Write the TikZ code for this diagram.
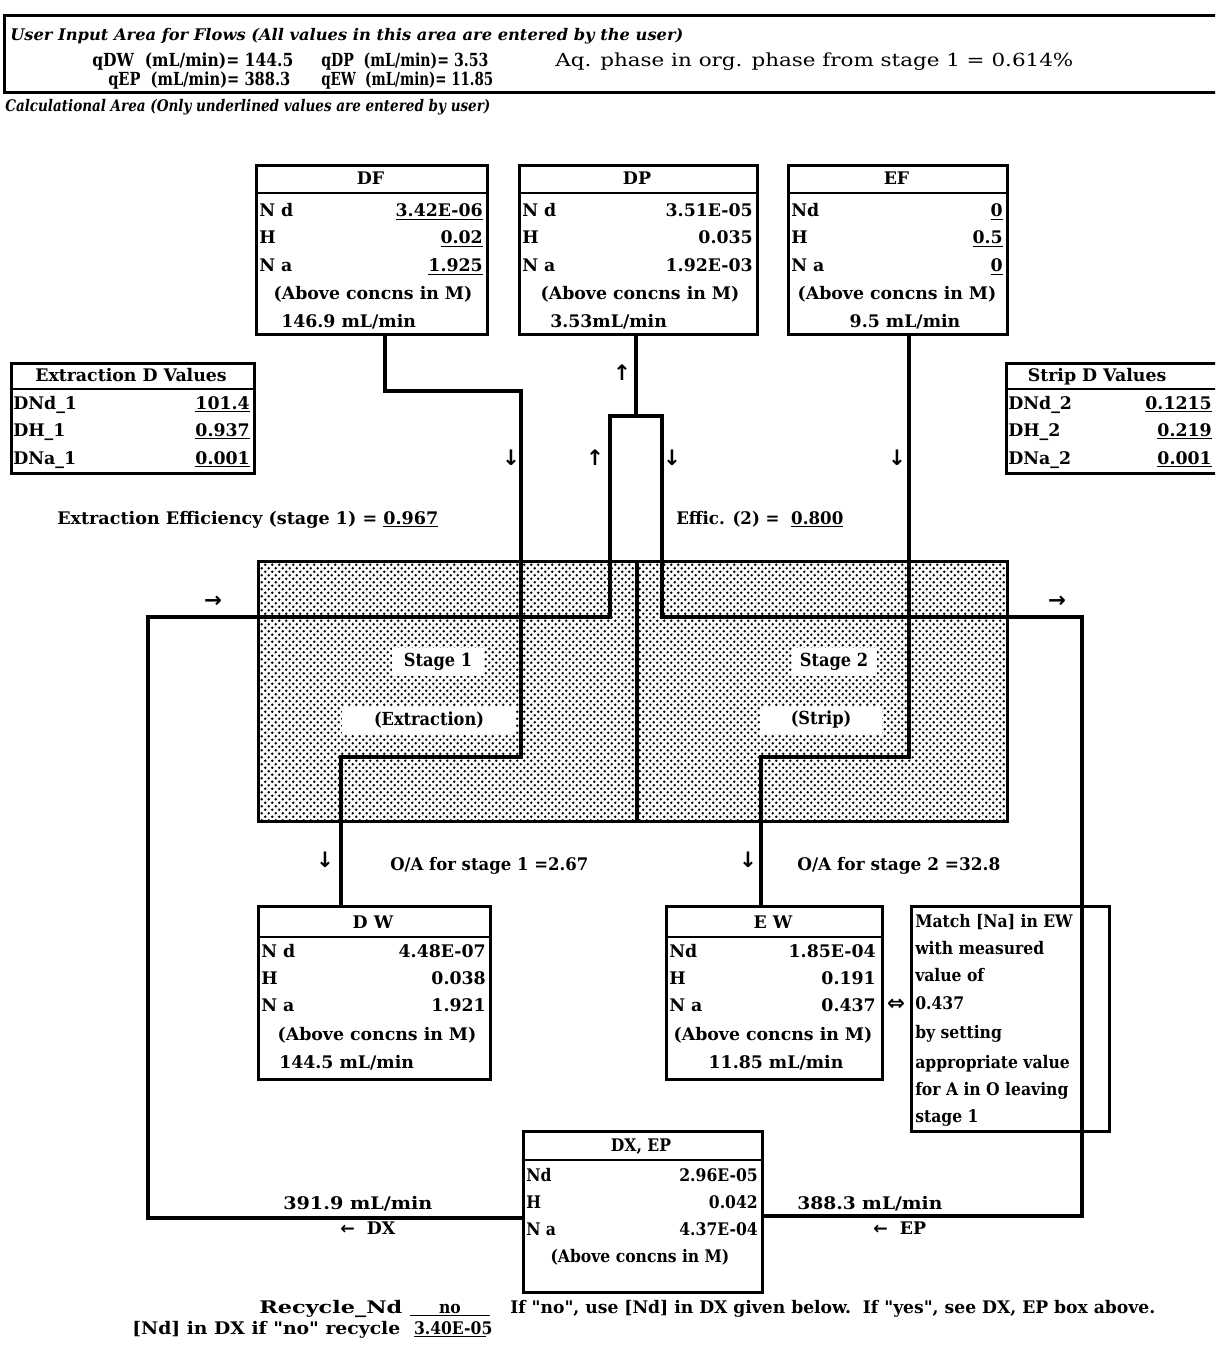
\documentclass[tikz,border=0pt]{standalone}
\usepackage{graphicx}
\usepackage{fontspec}
\setmainfont{DejaVu Serif}
\newfontfamily\condf{DejaVu Serif Condensed}
\newfontfamily\arrf{DejaVu Sans}
\usetikzlibrary{patterns}
\pgfdeclarepatternformonly{stagedots}{\pgfpoint{0pt}{0pt}}{\pgfpoint{5.6pt}{5.6pt}}{\pgfpoint{5.6pt}{5.6pt}}{%
  \pgfpathcircle{\pgfpoint{1.4pt}{1.4pt}}{1.15pt}%
  \pgfpathcircle{\pgfpoint{4.2pt}{4.2pt}}{1.15pt}%
  \pgfusepath{fill}}
\newcommand\fw[2]{\resizebox{#1}{\height}{#2}}
\begin{document}
\begin{tikzpicture}[x=0.75pt,y=-0.75pt,
  font=\fontsize{13}{15}\selectfont\bfseries,
  box/.style={draw,line width=2.4pt,inner sep=0pt,anchor=north west},
  conn/.style={line width=2.4pt,line join=miter},
  lt/.style={anchor=base west,inner sep=0pt},
  rt/.style={anchor=base east,inner sep=0pt},
  ct/.style={anchor=base,inner sep=0pt},
  arw/.style={anchor=center,inner sep=0pt,font=\arrf\fontsize{16}{16}\selectfont\bfseries},
  hdr/.style={line width=1.8pt},
  cnd/.style={font=\condf\fontsize{13.5}{15}\selectfont\bfseries},
  patch/.style={fill=white,inner sep=0pt,anchor=center}]
\useasboundingbox (0,0) rectangle (1215,1351);
\fill[white] (0,0) rectangle (1215,1351);
\clip (0,0) rectangle (1215,1351);

% ---------- input area ----------
\node[draw,line width=2.4pt,inner sep=0pt,anchor=north west,minimum width=1240*0.75pt,minimum height=77*0.75pt] (input) at (3,14) {};
\node[lt,font=\fontsize{12}{13}\selectfont\bfseries\itshape] (t1) at (10,41) {\fw{504.8pt}{User Input Area for Flows (All values in this area are entered by the user)}};
\node[lt,cnd] (qdw) at (92,67) {\fw{150.8pt}{qDW\ \ (mL/min)= 144.5}};
\node[lt,cnd] (qdp) at (321,67) {\fw{125.3pt}{qDP\ \ (mL/min)= 3.53}};
\node[lt,font=\condf\fontsize{13.5}{15}\selectfont] (aq) at (555,67) {\fw{388.5pt}{Aq. phase in org. phase from stage 1 = 0.614\%}};
\node[lt,cnd] (qep) at (108,86) {\fw{136.5pt}{qEP\ \ (mL/min)= 388.3}};
\node[lt,cnd] (qew) at (321,86) {\fw{129pt}{qEW\ \ (mL/min)= 11.85}};
\node[lt,font=\fontsize{12}{13}\selectfont\bfseries\itshape] (calc) at (5,112) {\fw{363.8pt}{Calculational Area (Only underlined values are entered by user)}};

% ---------- stage area ----------
\node[box,pattern=stagedots,minimum width=749*0.75pt,minimum height=260*0.75pt] (stages) at (257,560) {};
\draw[conn] (637,0 |- stages.north) -- (637,0 |- stages.south);

% ---------- top boxes ----------
% DF
\node[box,minimum width=231*0.75pt,minimum height=169*0.75pt] (DF) at (255,164) {};
\draw[hdr] (DF.north west) ++(0,29) -- ++(231,0);
\node[ct] at (370.5,185) {DF};
\node[lt] at (259,217) {N d}; \node[rt] at (483,217) {\underline{3.42E-06}};
\node[lt] at (259,244) {H};   \node[rt] at (483,244) {\underline{0.02}};
\node[lt] at (259,272) {N a}; \node[rt] at (483,272) {\underline{1.925}};
\node[ct] at (373,300) {(Above concns in M)};
\node[lt] at (281,328) {146.9 mL/min};
% DP
\node[box,minimum width=238*0.75pt,minimum height=169*0.75pt] (DP) at (518,164) {};
\draw[hdr] (DP.north west) ++(0,29) -- ++(238,0);
\node[ct] at (637,185) {DP};
\node[lt] at (522,217) {N d}; \node[rt] at (753,217) {3.51E-05};
\node[lt] at (522,244) {H};   \node[rt] at (753,244) {0.035};
\node[lt] at (522,272) {N a}; \node[rt] at (753,272) {1.92E-03};
\node[ct] at (640,300) {(Above concns in M)};
\node[lt] at (550,328) {3.53mL/min};
% EF
\node[box,minimum width=219*0.75pt,minimum height=169*0.75pt] (EF) at (787,164) {};
\draw[hdr] (EF.north west) ++(0,29) -- ++(219,0);
\node[ct] at (896.5,185) {EF};
\node[lt] at (791,217) {Nd};  \node[rt] at (1003,217) {\underline{0}};
\node[lt] at (791,244) {H};   \node[rt] at (1003,244) {\underline{0.5}};
\node[lt] at (791,272) {N a}; \node[rt] at (1003,272) {\underline{0}};
\node[ct] at (897,300) {(Above concns in M)};
\node[ct] at (905,328) {9.5 mL/min};

% ---------- D value boxes ----------
\node[box,minimum width=243*0.75pt,minimum height=110*0.75pt] (DX1) at (10,362) {};
\draw[hdr] (DX1.north west) ++(0,27) -- ++(243,0);
\node[ct] at (131,382) {Extraction D Values};
\node[lt] at (13,409) {DNd\_1}; \node[rt] at (250,409) {\underline{101.4}};
\node[lt] at (13,436) {DH\_1};  \node[rt] at (250,436) {\underline{0.937}};
\node[lt] at (13,464) {DNa\_1}; \node[rt] at (250,464) {\underline{0.001}};

\node[box,minimum width=240*0.75pt,minimum height=110*0.75pt] (SD) at (1005,362) {};
\draw[hdr] (SD.north west) ++(0,27) -- ++(240,0);
\node[ct] at (1097,382) {Strip D Values};
\node[lt] at (1008,409) {DNd\_2}; \node[rt] at (1212,409) {\underline{0.1215}};
\node[lt] at (1008,436) {DH\_2};  \node[rt] at (1212,436) {\underline{0.219}};
\node[lt] at (1008,464) {DNa\_2}; \node[rt] at (1212,464) {\underline{0.001}};

\node[lt] (eff1) at (57,524) {\fw{285.8pt}{Extraction Efficiency (stage 1) = \underline{0.967}}};
\node[lt] (eff2) at (676,524) {\fw{125.3pt}{Effic. (2) =\ \ \underline{0.800}}};

% ---------- bottom boxes ----------
% DW
\node[box,minimum width=232*0.75pt,minimum height=173*0.75pt] (DW) at (257,905) {};
\draw[hdr] (DW.north west) ++(0,32) -- ++(232,0);
\node[ct] at (373,928) {D W};
\node[lt] at (261,957) {N d}; \node[rt] at (486,957) {4.48E-07};
\node[lt] at (261,984) {H};   \node[rt] at (486,984) {0.038};
\node[lt] at (261,1011) {N a};\node[rt] at (486,1011) {1.921};
\node[ct] at (377,1040) {(Above concns in M)};
\node[lt] at (279,1068) {144.5 mL/min};
% EW
\node[box,minimum width=216*0.75pt,minimum height=173*0.75pt] (EW) at (665,905) {};
\draw[hdr] (EW.north west) ++(0,32) -- ++(216,0);
\node[ct] at (773,928) {E W};
\node[lt] at (669,957) {Nd};  \node[rt] at (876,957) {1.85E-04};
\node[lt] at (669,984) {H};   \node[rt] at (876,984) {0.191};
\node[lt] at (669,1011) {N a};\node[rt] at (876,1011) {0.437};
\node[ct] at (773,1040) {(Above concns in M)};
\node[ct] at (776,1068) {11.85 mL/min};
% Match box
\node[box,minimum width=198*0.75pt,minimum height=225*0.75pt] (MB) at (910,905) {};
\begin{scope}[font=\condf\fontsize{13}{15}\selectfont\bfseries]
\node[lt] at (915,927) {Match [Na] in EW};
\node[lt] at (915,954) {with measured};
\node[lt] at (915,981) {value of};
\node[lt] at (915,1009) {0.437};
\node[lt] at (915,1038) {by setting};
\node[lt] at (915,1068) {appropriate value};
\node[lt] at (915,1095) {for A in O leaving};
\node[lt] at (915,1122) {stage 1};
\end{scope}
% DX, EP
\node[box,minimum width=239*0.75pt,minimum height=161*0.75pt] (DXEP) at (522,1130) {};
\draw[hdr] (DXEP.north west) ++(0,30) -- ++(239,0);
\begin{scope}[font=\condf\fontsize{13}{15}\selectfont\bfseries]
\node[ct] at (641,1151) {DX, EP};
\node[lt] at (526,1181) {Nd}; \node[rt] at (758,1181) {2.96E-05};
\node[lt] at (526,1208) {H};  \node[rt] at (758,1208) {0.042};
\node[lt] at (526,1235) {N a};\node[rt] at (758,1235) {4.37E-04};
\node[ct] at (640,1262) {(Above concns in M)};
\end{scope}

% ---------- connectors ----------
\draw[conn] (385,0 |- DF.south) -- (385,391) -- (521,391) -- (521,757) -- (341,757) -- (341,0 |- DW.north);
\draw[conn] (909,0 |- EF.south) -- (909,757) -- (761,757) -- (761,0 |- EW.north);
\draw[conn] (636,0 |- DP.south) -- (636,416);
\draw[conn] (DXEP.west |- 0,1218) -- (148,1218) -- (148,617) -- (610,617) -- (610,416) -- (662,416) -- (662,617) -- (1082,617) -- (1082,1216) -- (DXEP.east |- 0,1216);

% ---------- stage labels ----------
\node[patch,cnd,minimum width=92*0.75pt,minimum height=28*0.75pt] (s1) at (438,662) {Stage 1};
\node[patch,cnd,minimum width=174*0.75pt,minimum height=27*0.75pt] (s1b) at (429,720) {(Extraction)};
\node[patch,cnd,minimum width=85*0.75pt,minimum height=28*0.75pt] (s2) at (834,662) {Stage 2};
\node[patch,cnd,minimum width=122*0.75pt,minimum height=27*0.75pt] (s2b) at (821,720) {(Strip)};

% ---------- arrows ----------
\node[arw] at (511,458) {↓};
\node[arw] at (595,458) {↑};
\node[arw] at (672,458) {↓};
\node[arw] at (622,373) {↑};
\node[arw] at (897,458) {↓};
\node[arw] at (213,602) {→};
\node[arw] at (1057,602) {→};
\node[arw] at (325,860) {↓};
\node[arw] at (748,860) {↓};
\node[arw] at (896,1005) {⇔};

% ---------- flow labels ----------
\node[lt] at (390,870) {\fw{148.5pt}{O/A for stage 1 =2.67}};
\node[lt] at (797,870) {\fw{152.3pt}{O/A for stage 2 =32.8}};
\node[lt] at (283,1209) {\fw{111.8pt}{391.9 mL/min}};
\node[lt] at (340,1234) {{\arrf ←}\ \ DX};
\node[lt] at (797,1209) {\fw{108.8pt}{388.3 mL/min}};
\node[lt] at (873,1234) {{\arrf ←}\ \ EP};

% ---------- bottom text ----------
\begin{scope}[font=\condf\fontsize{13}{15}\selectfont\bfseries]
\node[lt] (rn) at (259,1313) {\fw{107.3pt}{Recycle\_Nd}};
\node[ct] (rno) at (450,1313) {\underline{\hbox to 60pt{\hfil no\hfil}}};
\node[lt] (rif) at (510,1313) {\fw{483.8pt}{If "no", use [Nd] in DX given below.\ \ If "yes", see DX, EP box above.}};
\node[lt] (ndx) at (132,1334) {\fw{201pt}{[Nd] in DX if "no" recycle}};
\node[ct] (ndv) at (450,1334) {\underline{\hbox to 54pt{\hfil 3.40E-05\hfil}}};
\end{scope}
\end{tikzpicture}
\end{document}
